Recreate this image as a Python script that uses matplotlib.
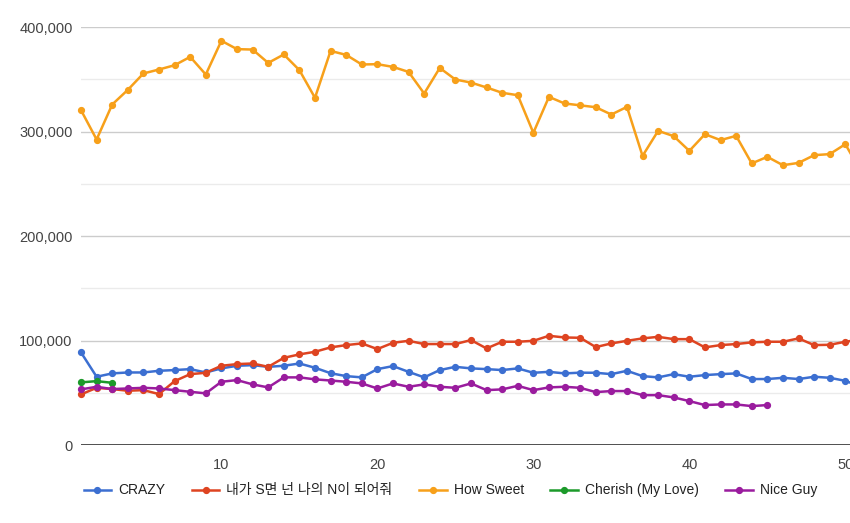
import matplotlib
matplotlib.use("Agg")
import matplotlib.pyplot as plt
from matplotlib.ticker import FuncFormatter, MultipleLocator

plt.rcParams['font.family'] = ['Liberation Sans', 'Noto Sans CJK KR', 'DejaVu Sans']

# ranking days
days = list(range(1, 52))

crazy = [88700, 65400, 68600, 69500, 69500, 71100, 71800, 72700, 69500, 73400,
         75900, 76500, 74900, 75900, 78100, 74000, 68800, 66000, 64800, 72700,
         75600, 70100, 64800, 71800, 74900, 73400, 72700, 71800, 73400, 69200,
         70100, 68600, 69300, 69200, 67900, 71100, 66000, 64800, 67900, 65400,
         67000, 67900, 68600, 63200, 63200, 64400, 63200, 65400, 64400, 61500,
         56000]
sn = [48500, 54800, 53600, 52000, 52600, 48800, 61200, 67900, 69200, 75900,
      77500, 78100, 74900, 83500, 86800, 89300, 93500, 95700, 97300, 91900,
      97900, 99800, 96700, 96700, 96700, 100500, 92500, 98900, 98900, 99800,
      104600, 103000, 102700, 93800, 97300, 99800, 102100, 103600, 101400, 101400,
      93500, 95700, 96700, 98300, 98900, 98900, 102100, 95700, 96000, 98900,
      101000]
how_sweet = [320600, 292500, 326000, 340000, 355700, 359500, 363600, 371600, 354700, 387000,
             379000, 378600, 365800, 373900, 358900, 332400, 377300, 373500, 364300, 364600,
             362000, 357200, 336500, 361000, 349900, 347000, 342300, 337200, 334900, 298900,
             333300, 327000, 325200, 323400, 316400, 323700, 276800, 300800, 295700, 281600,
             297600, 291900, 296000, 269600, 275900, 267900, 270100, 277500, 278500, 288000,
             262000]
cherish = [60000, 61200, 59600]
nice_guy = [53300, 55800, 53600, 54200, 54800, 54200, 52600, 51000, 49500, 60600,
            62200, 58100, 55200, 64800, 64800, 62900, 61800, 60600, 59000, 54200,
            59000, 55800, 58100, 55800, 54800, 59000, 52600, 53300, 56700, 52600,
            55200, 55800, 54800, 50700, 51700, 51700, 47800, 47800, 45600, 42100,
            38300, 38900, 38900, 37300, 38300]

series = [
    ("CRAZY", crazy, "#3c6fd1"),
    ("내가 S면 넌 나의 N이 되어줘", sn, "#de4421"),
    ("How Sweet", how_sweet, "#f7a01a"),
    ("Cherish (My Love)", cherish, "#1c9a2a"),
    ("Nice Guy", nice_guy, "#9a1c9e"),
]

fig = plt.figure(figsize=(8.5, 5.23), dpi=100)
ax = fig.add_axes([0.0953, 0.149, 0.9047, 0.799])

for name, vals, col in series:
    ax.plot(days[:len(vals)], vals, color=col, lw=1.8, marker='o', ms=4.2,
            label=name, zorder=3, clip_on=False)

ax.set_xlim(1, 50.3)
ax.set_ylim(0, 400000)

ax.yaxis.set_major_locator(MultipleLocator(100000))
ax.yaxis.set_minor_locator(MultipleLocator(50000))
ax.yaxis.set_major_formatter(FuncFormatter(lambda v, p: f"{int(v):,}"))
ax.set_xticks([10, 20, 30, 40, 50])

ax.grid(axis='y', which='major', color='#cccccc', lw=1)
ax.grid(axis='y', which='minor', color='#ebebeb', lw=1)
ax.axhline(0, color='#333333', lw=1.2, zorder=2)

for s in ax.spines.values():
    s.set_visible(False)
ax.tick_params(axis='both', which='both', length=0, labelsize=10.5, colors='#444444')
ax.tick_params(axis='y', pad=6)
ax.tick_params(axis='x', pad=9)

fig.legend(loc='lower center', bbox_to_anchor=(0.53, 0.025), ncol=5, frameon=False,
           fontsize=10, handlelength=2.0, columnspacing=1.9, handletextpad=0.5,
           labelcolor='#222222')

fig.savefig("out.png", dpi=100)
